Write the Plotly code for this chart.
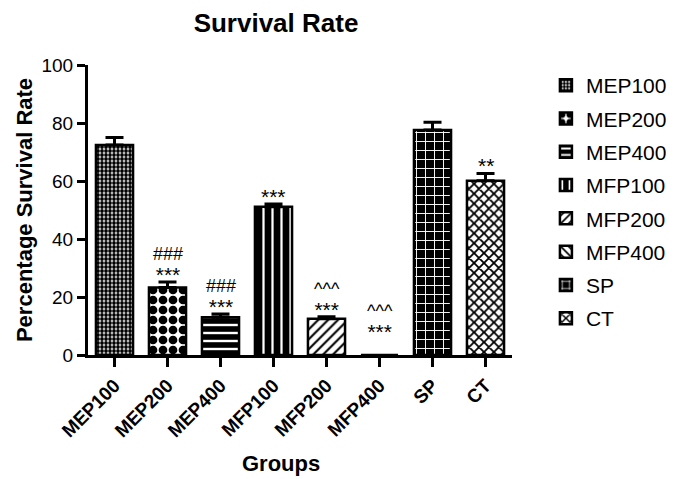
import plotly.graph_objects as go

groups = ["MEP100", "MEP200", "MEP400", "MFP100", "MFP200", "MFP400", "SP", "CT"]
survival = [72.4, 23.3, 13.0, 51.1, 12.5, 0.0, 77.6, 60.1]
sem = [2.6, 1.9, 1.1, 1.0, 0.7, 0.0, 2.7, 2.5]
marks_vs_control = ["", "***", "***", "***", "***", "***", "", "**"]
marks_vs_other = ["", "###", "###", "", "^^^", "^^^", "", ""]

# pattern styling per group: (shape, bg, fg, size, solidity)
patterns = [
    (".", "white", "black", 4, 0.7),
    (".", "white", "black", 10, 0.6),
    ("-", "black", "white", 8, 0.3),
    ("|", "black", "white", 9, 0.25),
    ("/", "white", "black", 7, 0.3),
    ("\\", "white", "black", 7, 0.3),
    ("+", "black", "white", 9, 0.2),
    ("x", "white", "black", 7, 0.45),
]

FONT = "Arial, Liberation Sans, Helvetica, sans-serif"

fig = go.Figure()
for i, g in enumerate(groups):
    shp, bg, fg, sz, sol = patterns[i]
    fig.add_trace(go.Bar(
        x=[g], y=[survival[i]], name=g, legendgroup=g,
        width=0.7,
        marker=dict(color=bg, line=dict(color="black", width=2.5),
                    pattern=dict(shape=shp, bgcolor=bg, fgcolor=fg, size=sz,
                                 solidity=sol, fillmode="replace")),
        error_y=dict(type="data", symmetric=False, array=[sem[i]], arrayminus=[0],
                     color="black", thickness=3, width=9, visible=sem[i] > 0),
    ))

annotations = []
for i, g in enumerate(groups):
    base = max(survival[i] + sem[i], 5.5)
    ctrl = marks_vs_control[i]
    other = marks_vs_other[i]
    if not (ctrl or other):
        continue
    if other:
        text = f"<span style='font-size:18px'>{other}</span><br><span style='font-size:21px'>{ctrl}</span>"
    else:
        text = f"<span style='font-size:21px'>{ctrl}</span>"
    annotations.append(dict(x=g, y=base, xref="x", yref="y", text=text,
                            showarrow=False, yanchor="bottom", yshift=-6,
                            font=dict(family=FONT, size=17, color="black")))

annotations.append(dict(x=0.455, y=-0.375, xref="paper", yref="paper", text="<b>Groups</b>",
                        showarrow=False, xanchor="center", yanchor="middle",
                        font=dict(family=FONT, size=22, color="black")))

fig.update_layout(
    width=670, height=471,
    margin=dict(l=80, r=166, t=57, b=124, autoexpand=False),
    paper_bgcolor="white", plot_bgcolor="white",
    barmode="overlay",
    showlegend=True,
    title=dict(text="<b>Survival Rate</b>", x=0.40, xanchor="center", xref="container",
               y=0.968, yanchor="middle", yref="container",
               font=dict(family=FONT, size=26, color="black")),
    legend=dict(x=1.08, xanchor="left", y=1.0, yanchor="top", tracegroupgap=3,
                font=dict(family=FONT, size=21, color="black"),
                bgcolor="rgba(0,0,0,0)"),
    annotations=annotations,
    font=dict(family=FONT, color="black"),
)
fig.update_xaxes(
    range=[-0.5, 7.5], showline=True, linecolor="black", linewidth=3,
    ticks="outside", ticklen=9, tickwidth=2.5, tickcolor="black",
    tickangle=-45, tickfont=dict(family=FONT, size=19, color="black"),
    tickprefix="<b>", ticksuffix="</b>",
    showgrid=False, zeroline=False, automargin=False,
)
fig.update_yaxes(
    range=[0, 100], tickvals=[0, 20, 40, 60, 80, 100], showline=True, linecolor="black", linewidth=3,
    ticks="outside", ticklen=8, tickwidth=2.5, tickcolor="black",
    tickfont=dict(family=FONT, size=19, color="black"),
    tickprefix="<b>", ticksuffix="</b>",
    title=dict(text="<b>Percentage Survival Rate</b>", font=dict(family=FONT, size=22, color="black"), standoff=3),
    showgrid=False, zeroline=False, automargin=False,
)
fig.write_html("out.html")
